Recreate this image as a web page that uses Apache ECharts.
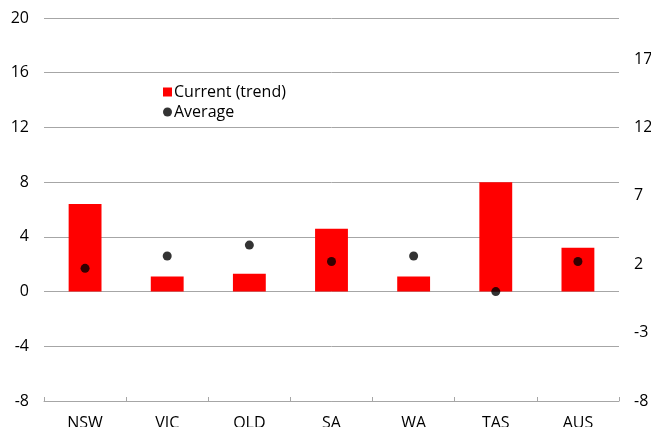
<!DOCTYPE html>
<html>
<head>
<meta charset="utf-8">
<script src="https://cdn.jsdelivr.net/npm/echarts@6/dist/echarts.min.js"></script>
<style>
  html, body { margin: 0; padding: 0; background: #fff; overflow: hidden; }
  #chart { width: 651px; height: 427px; }
</style>
</head>
<body>
<div id="chart"></div>
<script>
// States and territories
const categories = ['NSW', 'VIC', 'QLD', 'SA', 'WA', 'TAS', 'AUS'];
// Current (trend) values
const currentTrend = [6.4, 1.1, 1.3, 4.6, 1.1, 8.0, 3.2];
// Long-run average values
const average = [1.7, 2.6, 3.4, 2.2, 2.6, 0.0, 2.2];
// Right-hand axis labels start at -8 and step by 5
const rightAxisStart = -8;

const FONT = 'Open Sans';
const chart = echarts.init(document.getElementById('chart'), null, { renderer: 'canvas', width: 651, height: 427 });

chart.setOption({
  animation: false,
  backgroundColor: '#ffffff',
  textStyle: { fontFamily: FONT },
  // fixed plot box; category labels are allowed to run past the bottom edge
  grid: { left: 44, right: 32, top: 18, bottom: 26, containLabel: false, outerBoundsMode: 'none' },
  legend: {
    orient: 'vertical',
    left: 158,
    top: 79,
    itemGap: 4,
    itemWidth: 9,
    itemHeight: 9,
    textStyle: { fontFamily: FONT, fontSize: 16, color: '#000', padding: [0, 0, 0, -3] },
    data: [
      { name: 'Current (trend)', icon: 'rect', itemStyle: { color: '#ff0000' } },
      { name: 'Average', icon: 'circle', itemStyle: { color: '#000' } }
    ]
  },
  xAxis: {
    type: 'category',
    data: categories,
    boundaryGap: true,
    axisLine: { onZero: false, lineStyle: { color: '#a6a6a6', width: 1 } },
    axisTick: { show: true, inside: true, length: 4, lineStyle: { color: '#a6a6a6' } },
    axisLabel: { fontFamily: FONT, fontSize: 16, color: '#000', margin: 14 },
    splitLine: { show: false }
  },
  yAxis: [
    {
      type: 'value',
      min: -8,
      max: 20,
      interval: 4,
      axisLine: { show: false },
      axisTick: { show: false },
      axisLabel: { fontFamily: FONT, fontSize: 16, color: '#000', margin: 15 },
      splitLine: { show: true, lineStyle: { color: '#a6a6a6', width: 1 } }
    },
    {
      type: 'value',
      position: 'right',
      min: 0,
      max: 28,
      interval: 5,
      axisLine: { show: false },
      axisTick: { show: false },
      splitLine: { show: false },
      axisLabel: {
        fontFamily: FONT, fontSize: 16, color: '#000', margin: 15,
        showMaxLabel: false,
        formatter: v => String(v + rightAxisStart)
      }
    }
  ],
  series: [
    {
      name: 'Current (trend)',
      type: 'bar',
      yAxisIndex: 0,
      data: currentTrend,
      barWidth: '40%',
      itemStyle: { color: '#ff0000' }
    },
    {
      name: 'Average',
      type: 'scatter',
      yAxisIndex: 0,
      data: average,
      symbol: 'circle',
      symbolSize: 9,
      itemStyle: { color: '#000000' },
      z: 5
    },
    {
      // keeps the right-hand axis scale active
      name: 'rightScale',
      type: 'line',
      yAxisIndex: 1,
      data: [],
      silent: true
    }
  ]
});
</script>
</body>
</html>
